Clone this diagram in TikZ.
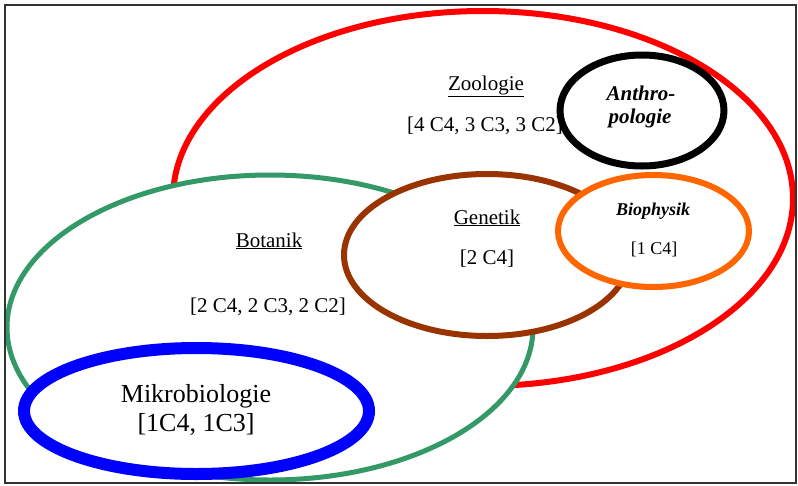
\documentclass[tikz,border=0pt]{standalone}
\usepackage{fontspec}
\setmainfont{Liberation Serif}
\definecolor{zoored}{HTML}{FF0000}
\definecolor{botgreen}{HTML}{339966}
\definecolor{genbrown}{HTML}{993300}
\definecolor{biorange}{HTML}{FF6600}
\definecolor{mikblue}{HTML}{0000FF}
\begin{document}
\begin{tikzpicture}[x=1pt,y=-1pt,
  field/.style={fill=white,line width=#1},
  lbl/.style={anchor=base,inner sep=0pt,font=\fontsize{21}{24}\selectfont},
  small/.style={anchor=base,inner sep=0pt,font=\fontsize{18}{21}\selectfont},
  big/.style={anchor=base,inner sep=0pt,font=\fontsize{26}{30}\selectfont}]
\useasboundingbox (0,0) rectangle (798,485);
% Zoologie
\draw[field=6pt,draw=zoored] (483,198.5) ellipse [x radius=310,y radius=187.5];
\node[lbl] (zoo) at (486,90) {\underline{Zoologie}};
\node[lbl,anchor=base west] (zooc) at (407,131) {[4 C4, 3 C3, 3 C2]};
% Anthropologie
\draw[field=7pt,draw=black] (642,110.5) ellipse [x radius=82,y radius=55.5];
\node[lbl,font=\fontsize{21}{24}\selectfont\bfseries\itshape] (anth1) at (641,100) {Anthro-};
\node[lbl,font=\fontsize{21}{24}\selectfont\bfseries\itshape] (anth2) at (640,123) {pologie};
% Botanik
\draw[field=5pt,draw=botgreen] (270,327.5) ellipse [x radius=263,y radius=152.5];
\node[lbl] (bot) at (269,247) {\underline{Botanik}};
\node[lbl] (botc) at (268,312) {[2 C4, 2 C3, 2 C2]};
% Genetik
\draw[field=6pt,draw=genbrown] (487,255) ellipse [x radius=143,y radius=81];
\node[lbl] (gen) at (487,224) {\underline{Genetik}};
\node[lbl] (genc) at (487,264) {[2 C4]};
% Biophysik
\draw[field=6pt,draw=biorange] (653.5,231) ellipse [x radius=95.5,y radius=56];
\node[small,font=\fontsize{18}{21}\selectfont\bfseries\itshape] (bio) at (653,215) {Biophysik};
\node[small] (bioc) at (654,254) {[1 C4]};
% Mikrobiologie
\draw[field=12pt,draw=mikblue] (196.5,411) ellipse [x radius=172.5,y radius=63];
\node[big] (mik) at (196,402) {Mikrobiologie};
\node[big] (mikc) at (196,431) {[1C4, 1C3]};
% frame
\draw[line width=1.5pt,draw=black!80] (5,5) rectangle (796,483);
\end{tikzpicture}
\end{document}
